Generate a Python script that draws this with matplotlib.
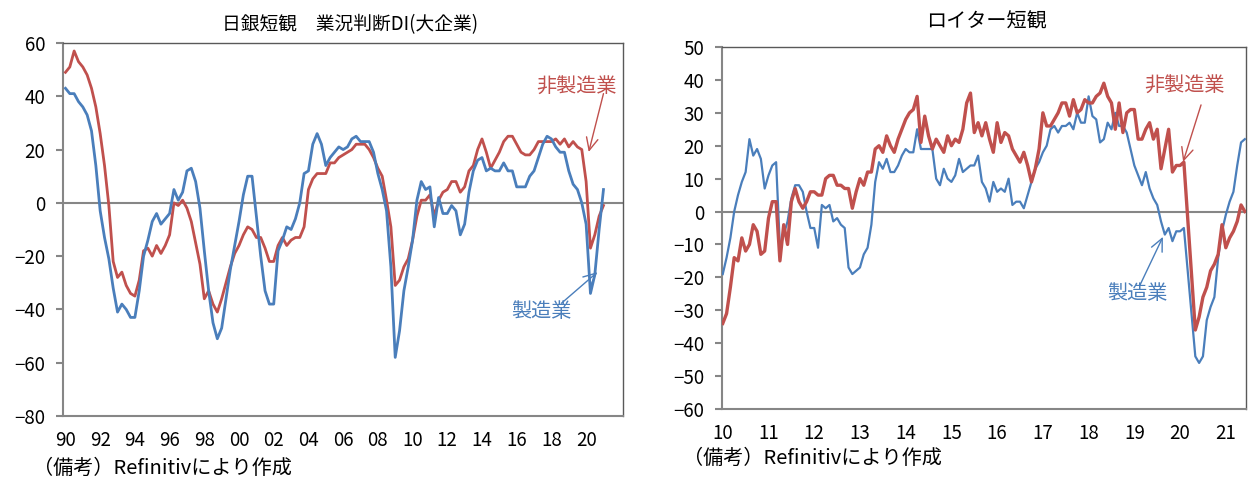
import matplotlib
matplotlib.use("Agg")
import matplotlib.pyplot as plt

plt.rcParams['font.family'] = ['Noto Sans CJK JP', 'DejaVu Sans']
plt.rcParams['axes.unicode_minus'] = True

BLUE = "#4a7ebb"
RED = "#c0504d"
AXIS_GRAY = "#868686"
FRAME = "#595959"

# 日銀短観 (quarterly, 1990Q1 - 2021Q1)
tankan_years = ["90", "92", "94", "96", "98", "00", "02", "04",
                "06", "08", "10", "12", "14", "16", "18", "20"]
tankan_mfg = [
    43, 41, 41, 38, 36, 33, 27, 14, -3, -13, -21, -32, -41, -38, -40, -43,
    -43, -33, -20, -14, -7, -4, -8, -6, -4, 5, 1, 4, 12, 13, 8, -2,
    -18, -33, -45, -51, -47, -36, -25, -16, -7, 3, 10, 10, -5, -20, -33, -38,
    -38, -18, -14, -9, -10, -6, 0, 11, 12, 22, 26, 22, 14, 17, 19, 21,
    20, 21, 24, 25, 23, 23, 23, 19, 11, 5, -3, -24, -58, -48, -33, -24,
    -14, 1, 8, 5, 6, -9, 2, -4, -4, -1, -3, -12, -8, 4, 12, 16,
    17, 12, 13, 12, 12, 15, 12, 12, 6, 6, 6, 10, 12, 17, 22, 25,
    24, 21, 19, 19, 12, 7, 5, 0, -8, -34, -27, -10, 5,
]
tankan_nonmfg = [
    49, 51, 57, 53, 51, 48, 43, 36, 26, 14, -1, -22, -28, -26, -31, -34,
    -35, -29, -18, -17, -20, -16, -19, -16, -12, 0, -1, 1, -2, -7, -15, -23,
    -36, -33, -38, -41, -36, -30, -24, -19, -16, -12, -9, -10, -13, -13, -17, -22,
    -22, -16, -13, -16, -14, -13, -13, -9, 5, 9, 11, 11, 11, 15, 15, 17,
    18, 19, 20, 22, 22, 22, 20, 17, 13, 10, 1, -9, -31, -29, -24, -21,
    -14, -5, 1, 1, 3, -5, 1, 4, 5, 8, 8, 4, 6, 12, 14, 20,
    24, 19, 13, 16, 19, 23, 25, 25, 22, 19, 18, 18, 20, 23, 23, 23,
    23, 24, 22, 24, 21, 23, 21, 20, 8, -17, -12, -5, -1,
]

# ロイター短観 (monthly, 2010/01 - 2021/06)
reuters_years = ["10", "11", "12", "13", "14", "15", "16", "17", "18", "19", "20", "21"]
reuters_mfg = [
    -19, -14, -8, 0, 5, 9, 12, 22, 17, 19, 16, 7,
    11, 14, 15, -11, -7, -3, 4, 8, 8, 6, 0, -5,
    -5, -11, 2, 1, 2, -3, -2, -4, -5, -17, -19, -18,
    -17, -13, -11, -4, 9, 15, 13, 16, 12, 12, 14, 17,
    19, 18, 18, 25, 19, 19, 19, 19, 10, 8, 13, 10,
    9, 11, 16, 12, 13, 14, 14, 17, 9, 7, 3, 9,
    6, 7, 6, 10, 2, 3, 3, 1, 5, 9, 13, 15,
    18, 20, 25, 26, 24, 26, 26, 27, 25, 30, 27, 27,
    35, 29, 28, 21, 22, 27, 25, 30, 26, 26, 24, 19,
    14, 11, 8, 12, 7, 4, 2, -3, -7, -5, -9, -6,
    -6, -5, -18, -31, -44, -46, -44, -33, -29, -26, -14, -6,
    -1, 3, 6, 14, 21, 22,
]
reuters_nonmfg = [
    -34, -31, -23, -14, -15, -8, -12, -10, -4, -6, -13, -12,
    -2, 3, 3, -15, -4, -10, 3, 7, 3, 1, 3, 6,
    6, 5, 5, 10, 11, 11, 8, 8, 7, 7, 1, 6,
    10, 8, 12, 12, 19, 20, 18, 23, 20, 18, 22, 25,
    28, 30, 31, 35, 21, 29, 23, 19, 22, 20, 18, 23,
    20, 22, 21, 25, 33, 36, 24, 27, 23, 27, 22, 18,
    27, 21, 24, 23, 19, 17, 15, 18, 14, 9, 13, 19,
    30, 26, 26, 28, 30, 33, 33, 29, 34, 30, 31, 34,
    33, 33, 35, 36, 39, 35, 33, 25, 33, 24, 30, 31,
    31, 22, 22, 25, 27, 22, 25, 13, 19, 25, 12, 14,
    14, 15, -2, -19, -36, -32, -26, -23, -18, -16, -13, -4,
    -11, -8, -6, -3, 2, 0,
]

W, H = 1256, 492


def fig_box(x0, y0, x1, y1):
    return [x0 / W, 1 - y1 / H, (x1 - x0) / W, (y1 - y0) / H]


def style_axes(ax):
    for side in ["left", "bottom"]:
        ax.spines[side].set_color(AXIS_GRAY)
        ax.spines[side].set_linewidth(1.5)
    for side in ["top", "right"]:
        ax.spines[side].set_color(FRAME)
        ax.spines[side].set_linewidth(1.0)
    ax.axhline(0, color=AXIS_GRAY, lw=1.5, zorder=1)
    ax.tick_params(axis="y", direction="out", length=5, width=1.5,
                   color=AXIS_GRAY, pad=8, labelsize=13.5)
    ax.tick_params(axis="x", length=0, pad=10, labelsize=13.5)


ARROW = "->,head_length=0.9,head_width=0.42"

fig = plt.figure(figsize=(W / 100, H / 100), dpi=100)

# ---- left: 日銀短観
ax1 = fig.add_axes(fig_box(63.3, 43, 623, 416))
q = list(range(len(tankan_mfg)))
ax1.plot(q, tankan_nonmfg, color=RED, lw=2.0, zorder=3)
ax1.plot(q, tankan_mfg, color=BLUE, lw=2.0, zorder=4)
ax1.set_xlim(-0.5, 128.5)
ax1.set_ylim(-80, 60)
ax1.set_yticks(range(-80, 61, 20))
ax1.set_xticks(range(0, 8 * len(tankan_years), 8))
ax1.set_xticklabels(tankan_years)
style_axes(ax1)

ax1.text(117.8, 43.2, "非製造業", color=RED, fontsize=14.5, ha="center", va="center")
ax1.annotate("", xy=(120.6, 19.1), xytext=(124.0, 41),
             arrowprops=dict(arrowstyle=ARROW, color=RED, lw=1.0,
                             shrinkA=0, shrinkB=0))
ax1.text(109.8, -40.8, "製造業", color=BLUE, fontsize=14.5, ha="center", va="center")
ax1.annotate("", xy=(122.6, -26), xytext=(114.3, -37.7),
             arrowprops=dict(arrowstyle=ARROW, color=BLUE, lw=1.0,
                             shrinkA=0, shrinkB=0))

# ---- right: ロイター短観
ax2 = fig.add_axes(fig_box(722, 47, 1246, 409))
m = list(range(len(reuters_mfg)))
ax2.plot(m, reuters_mfg, color=BLUE, lw=1.6, zorder=3)
ax2.plot(m, reuters_nonmfg, color=RED, lw=2.4, zorder=4)
ax2.set_xlim(-0.2, 137.3)
ax2.set_ylim(-60, 50)
ax2.set_yticks(range(-60, 51, 10))
ax2.set_xticks(range(0, 12 * len(reuters_years), 12))
ax2.set_xticklabels(reuters_years)
style_axes(ax2)

ax2.text(121.1, 38.2, "非製造業", color=RED, fontsize=14.5, ha="center", va="center")
ax2.annotate("", xy=(120.8, 15.1), xytext=(125.5, 32.4),
             arrowprops=dict(arrowstyle=ARROW, color=RED, lw=1.0,
                             shrinkA=0, shrinkB=0))
ax2.text(108.7, -25, "製造業", color=BLUE, fontsize=14.5, ha="center", va="center")
ax2.annotate("", xy=(115.5, -7.7), xytext=(109.5, -22.3),
             arrowprops=dict(arrowstyle=ARROW, color=BLUE, lw=1.0,
                             shrinkA=0, shrinkB=0))

# titles and notes
fig.text(350 / W, 1 - 25 / H, "日銀短観　業況判断DI(大企業)", fontsize=13.5,
         ha="center", va="center")
fig.text(986 / W, 1 - 22 / H, "ロイター短観", fontsize=14.5, ha="center", va="center")
fig.text(33 / W, 1 - 468 / H, "（備考）Refinitivにより作成", fontsize=14.5,
         ha="left", va="center")
fig.text(683 / W, 1 - 458 / H, "（備考）Refinitivにより作成", fontsize=14.5,
         ha="left", va="center")

fig.savefig("out.png", dpi=100)
